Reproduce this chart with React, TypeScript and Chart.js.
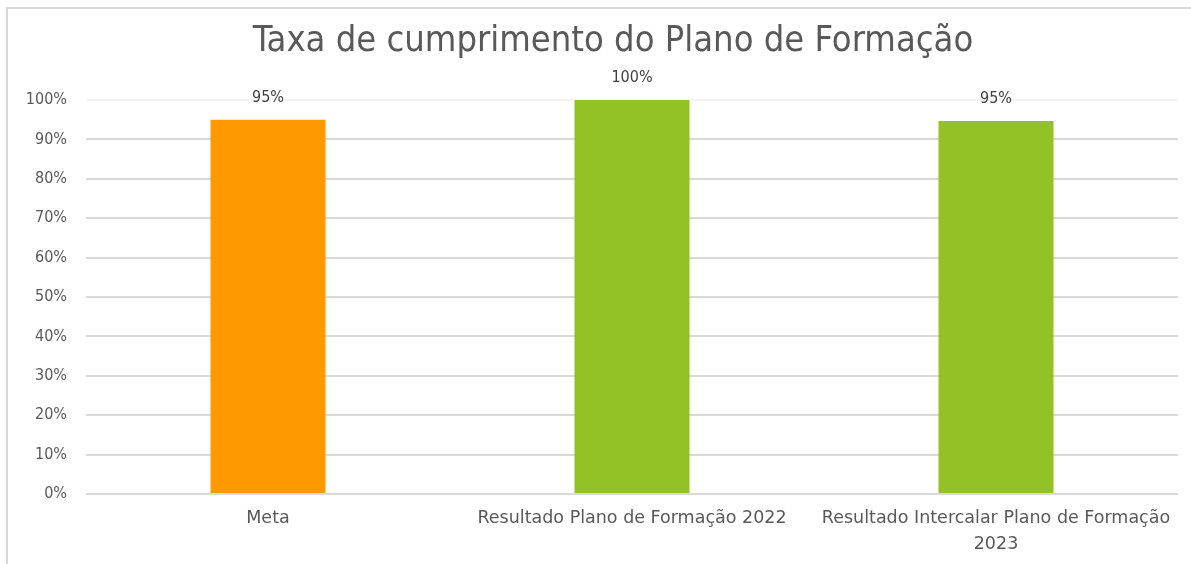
import React, { useEffect, useRef } from 'react';
import { Chart, registerables } from 'chart.js';

Chart.register(...registerables);

const chartTitle = 'Taxa de cumprimento do Plano de Formação';
const categories: (string | string[])[] = [
  'Meta',
  'Resultado Plano de Formação 2022',
  ['Resultado Intercalar Plano de Formação', '2023'],
];
const values = [95, 100, 94.7];
const barColors = ['#FF9900', '#92C225', '#92C225'];
const yMin = 0;
const yMax = 100;
const yStep = 10;

const FONT = '"DejaVu Sans Condensed", "DejaVu Sans", sans-serif';
const FONT_X = '"DejaVu Sans", sans-serif';

const framePlugin = {
  id: 'frame',
  beforeDraw(chart: any) {
    const ctx = chart.ctx;
    ctx.save();
    ctx.fillStyle = '#ffffff';
    ctx.fillRect(0, 0, chart.width, chart.height);
    ctx.strokeStyle = '#d9d9d9';
    ctx.lineWidth = 2;
    ctx.beginPath();
    ctx.moveTo(7, chart.height);
    ctx.lineTo(7, 8);
    ctx.lineTo(chart.width, 8);
    ctx.stroke();
    ctx.restore();
  },
};

const valueLabels = {
  id: 'valueLabels',
  afterDatasetsDraw(chart: any) {
    const ctx = chart.ctx;
    const meta = chart.getDatasetMeta(0);
    ctx.save();
    ctx.fillStyle = '#404040';
    ctx.font = `16px ${FONT}`;
    ctx.textAlign = 'center';
    ctx.textBaseline = 'middle';
    meta.data.forEach((el: any, i: number) => {
      const v = chart.data.datasets[0].data[i] as number;
      ctx.fillText(Math.round(v) + '%', el.x, el.y - 22);
    });
    ctx.restore();
  },
};

const titlePlugin = {
  id: 'customTitle',
  afterDraw(chart: any) {
    const ctx = chart.ctx;
    ctx.save();
    ctx.fillStyle = '#595959';
    ctx.font = `36px ${FONT}`;
    ctx.textAlign = 'center';
    ctx.textBaseline = 'middle';
    ctx.fillText(chartTitle, 613, 42);
    ctx.restore();
  },
};

export default function App() {
  const ref = useRef<HTMLCanvasElement>(null);
  useEffect(() => {
    if (!ref.current) return;
    const chart = new Chart(ref.current, {
      type: 'bar',
      data: {
        labels: categories,
        datasets: [
          {
            data: values,
            backgroundColor: barColors,
            borderWidth: 0,
            categoryPercentage: 1,
            barPercentage: 0.316,
          },
        ],
      },
      options: {
        animation: false,
        responsive: false,
        layout: { padding: { left: 0, right: 13, top: 100, bottom: 0 } },
        plugins: {
          legend: { display: false },
          title: { display: false },
          tooltip: { enabled: false },
        },
        scales: {
          x: {
            grid: { display: false, drawTicks: false },
            border: { display: false },
            ticks: {
              color: '#595959',
              font: { family: FONT_X, size: 17.5, lineHeight: 1.45 },
              padding: 12,
              maxRotation: 0,
              autoSkip: false,
            },
            afterFit(s: any) {
              s.height = 70;
            },
          },
          y: {
            min: yMin,
            max: yMax,
            ticks: {
              stepSize: yStep,
              color: '#595959',
              font: { family: FONT, size: 16 },
              padding: 19,
              callback: (v: any) => v + '%',
            },
            grid: {
              drawTicks: false,
              lineWidth: 2,
              color: (c: any) => (c.tick && c.tick.value === yMax ? '#f3f3f3' : '#d9d9d9'),
            },
            border: { display: false },
            afterFit(s: any) {
              s.width = 86;
            },
          },
        },
      },
      plugins: [framePlugin, valueLabels, titlePlugin],
    });
    return () => chart.destroy();
  }, []);

  return (
    <canvas
      ref={ref}
      width={1191}
      height={564}
      style={{ position: 'absolute', left: 0, top: 0, display: 'block' }}
    />
  );
}
